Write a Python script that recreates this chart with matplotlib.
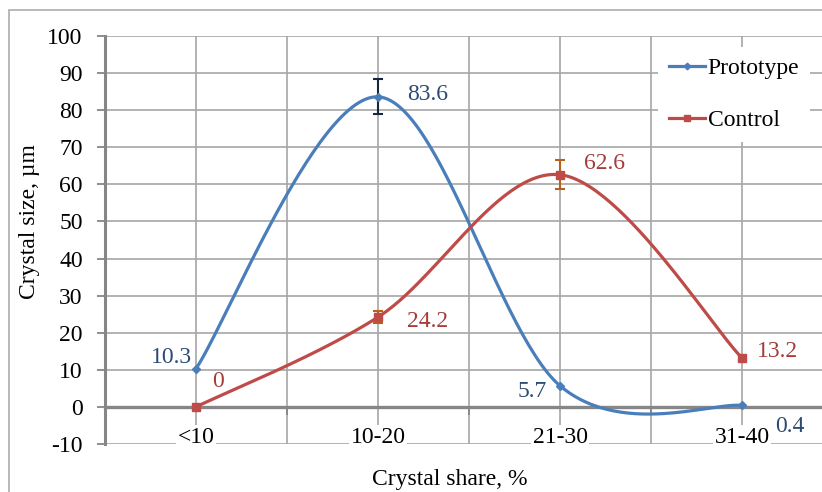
import matplotlib
matplotlib.use("Agg")
import matplotlib.pyplot as plt
from matplotlib.patches import Rectangle
import numpy as np

categories = ['<10', '10-20', '21-30', '31-40']
prototype = [10.3, 83.6, 5.7, 0.4]
control = [0, 24.2, 62.6, 13.2]
prototype_err = [0, 4.7, 0, 0]
control_err = [0, 1.6, 3.9, 0]

plt.rcParams['font.family'] = ['Liberation Serif', 'DejaVu Serif']
plt.rcParams['font.size'] = 17
plt.rcParams['axes.unicode_minus'] = False

BLUE = '#4a7ebb'
RED = '#be4b48'
GRID = '#a6a6a6'
AXIS = '#868686'


def smooth(ys, n=60):
    """Excel-style smoothed line (uniform Catmull-Rom as cubic Bezier)."""
    pts = np.column_stack([np.arange(len(ys)), ys]).astype(float)
    ext = np.vstack([pts[0], pts, pts[-1]])
    out = []
    t = np.linspace(0, 1, n)[:, None]
    for i in range(len(pts) - 1):
        p0, p3 = ext[i + 1], ext[i + 2]
        c1 = p0 + (ext[i + 2] - ext[i]) / 6
        c2 = p3 - (ext[i + 3] - ext[i + 1]) / 6
        seg = ((1 - t) ** 3) * p0 + 3 * ((1 - t) ** 2) * t * c1 \
            + 3 * (1 - t) * t ** 2 * c2 + t ** 3 * p3
        out.append(seg)
    seg = np.vstack(out)
    return seg[:, 0], seg[:, 1]


fig = plt.figure(figsize=(8.22, 4.92), dpi=100)
ax = fig.add_axes([105 / 822, 48 / 492, 728 / 822, 408 / 492])

x = np.arange(len(categories))

# series
for vals, err, color, marker, ms, ecol, name in [
        (prototype, prototype_err, BLUE, 'D', 4.5, '#17263d', 'Prototype'),
        (control, control_err, RED, 's', 5.2, '#b8611a', 'Control')]:
    sx, sy = smooth(vals)
    ax.plot(sx, sy, color=color, lw=2.3, zorder=4, solid_capstyle='round')
    ax.plot(x, vals, ls='none', marker=marker, ms=ms, color=color, zorder=5)
    idx = [i for i, e in enumerate(err) if e > 0]
    ax.errorbar([x[i] for i in idx], [vals[i] for i in idx],
                yerr=[err[i] for i in idx], fmt='none', ecolor=ecol,
                elinewidth=1.5, capsize=3.5, capthick=1.5, zorder=4.5)
    ax.plot([], [], color=color, lw=2.3, marker=marker, ms=ms * 0.75, label=name)

# data labels (pixel offsets)
blue_txt = '#2c4a73'
red_txt = '#a33d3a'
offsets_p = [(-4, 11, 'right'), (29, 2, 'left'), (-13, -6, 'right'), (33, -21, 'left')]
offsets_c = [(16, 25, 'left'), (29, -4, 'left'), (24, 11, 'left'), (15, 6, 'left')]
for i, v in enumerate(prototype):
    dx, dy, ha = offsets_p[i]
    ax.annotate(f'{v:g}', (x[i], v), xytext=(dx, dy), textcoords='offset pixels',
                ha=ha, va='center', color=blue_txt, fontsize=17, zorder=6)
for i, v in enumerate(control):
    dx, dy, ha = offsets_c[i]
    ax.annotate(f'{v:g}', (x[i], v), xytext=(dx, dy), textcoords='offset pixels',
                ha=ha, va='center', color=red_txt, fontsize=17, zorder=6)

ax.set_xlim(-0.5, len(categories) - 0.5)
ax.set_ylim(-10, 100)
ax.set_yticks(np.arange(-10, 101, 10))

# x axis at zero, ticks at category boundaries
ax.spines['bottom'].set_position(('data', 0))
ax.spines['bottom'].set_color(AXIS)
ax.spines['bottom'].set_linewidth(2.4)
ax.spines['left'].set_color(AXIS)
ax.spines['left'].set_linewidth(2.2)
ax.spines['top'].set_visible(False)
ax.spines['right'].set_visible(False)
ax.set_xticks(np.arange(-0.5, len(categories), 1.0))
ax.set_xticks(x, minor=True)
ax.tick_params(axis='x', which='major', length=6, width=1.3, color=AXIS,
               labelbottom=False, direction='out')
ax.tick_params(axis='x', which='minor', length=0, labelbottom=False)
ax.tick_params(axis='y', length=6, width=1.3, color=AXIS, pad=10, labelsize=17)
ax.grid(True, which='both', axis='x', color=GRID, lw=1.2)
ax.grid(True, which='major', axis='y', color=GRID, lw=1.2)
ax.set_axisbelow(True)

for i, c in enumerate(categories):
    ax.text(x[i], -8.3, c, ha='center', va='center', fontsize=17, zorder=3,
            bbox=dict(boxstyle='square,pad=0.08', fc='white', ec='none'))

fig.text(30 / 822, 1 - 222 / 492, 'Crystal size, µm', rotation=90,
         ha='center', va='center', fontsize=17)
fig.text(450 / 822, 1 - 480 / 492, 'Crystal share, %', ha='center',
         va='center', fontsize=17)

leg = ax.legend(loc='upper left', bbox_to_anchor=(658 / 822, 1 - 47 / 492),
                bbox_transform=fig.transFigure, frameon=True, fancybox=False,
                facecolor='white', edgecolor='none', framealpha=1,
                fontsize=17, handlelength=1.55, handletextpad=0.1,
                borderpad=0.45, borderaxespad=0, labelspacing=1.3)
leg.set_zorder(7)

# outer chart border
fig.patches.append(Rectangle((9 / 822, -0.1), 1.2, 1.1 - 10 / 492 + 0.001,
                             transform=fig.transFigure, fill=False,
                             ec='#b3b3b3', lw=1.3))

fig.savefig('out.png', dpi=100)
